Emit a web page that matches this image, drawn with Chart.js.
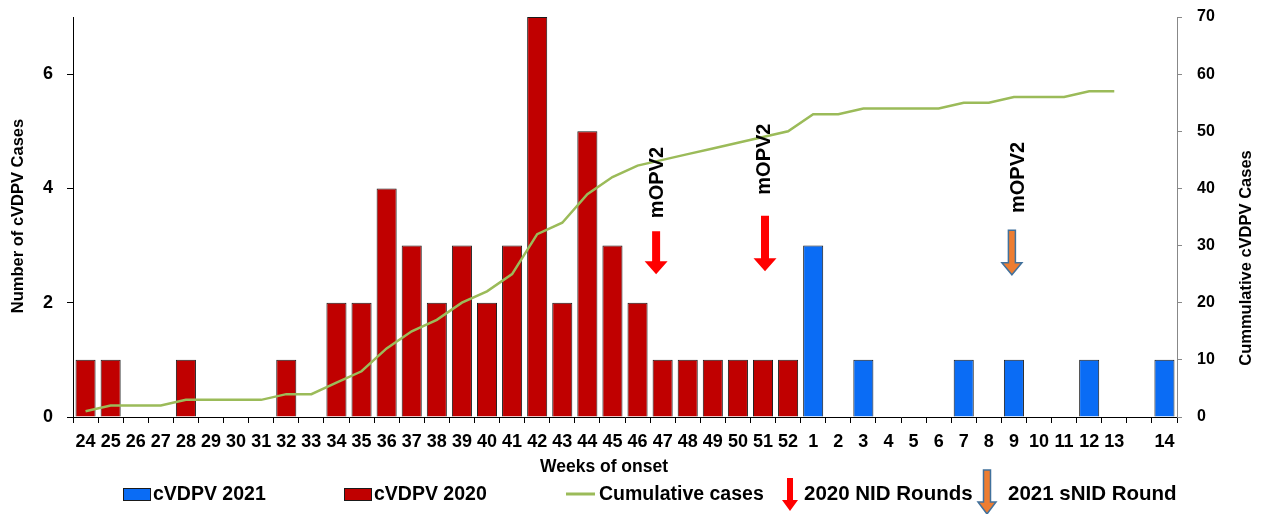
<!DOCTYPE html>
<html>
<head>
<meta charset="utf-8">
<script src="https://cdn.jsdelivr.net/npm/chart.js@4.4.1/dist/chart.umd.min.js"></script>
<style>
  html, body { margin: 0; padding: 0; background: #ffffff; }
  #wrap { width: 1264px; height: 514px; }
</style>
</head>
<body>
<div id="wrap"><canvas id="c" width="1264" height="514"></canvas></div>
<script>
// ---- data ----
const weeks = ['24','25','26','27','28','29','30','31','32','33','34','35','36','37','38','39','40','41','42','43','44','45','46','47','48','49','50','51','52',
               '1','2','3','4','5','6','7','8','9','10','11','12','13','','14'];
const cvdpv2020 = [1,1,0,0,1,0,0,0,1,0,2,2,4,3,2,3,2,3,7,2,5,3,2,1,1,1,1,1,1,
                   null,null,null,null,null,null,null,null,null,null,null,null,null,null,null];
const cvdpv2021 = [null,null,null,null,null,null,null,null,null,null,null,null,null,null,null,null,null,null,null,null,null,null,null,null,null,null,null,null,null,
                   3,0,1,0,0,0,1,0,1,0,0,1,0,null,1];
const cumulative = [1,2,2,2,3,3,3,3,4,4,6,8,12,15,17,20,22,25,32,34,39,42,44,45,46,47,48,49,50,
                    53,53,54,54,54,54,55,55,56,56,56,57,57,null,null];
const leftTicks = [0,2,4,6];
const rightTicks = [0,10,20,30,40,50,60,70];
const roundLabel = 'mOPV2';
const legendLabels = ['cVDPV 2021','cVDPV 2020','Cumulative cases','2020 NID Rounds','2021 sNID Round'];

// ---- styling / placement (not data) ----
const FONT = '"Liberation Sans", Arial, sans-serif';
const C2020 = '#C00000', C2021 = '#0A6CF5', CLINE = '#9BBB59';
// campaign markers, in axis units (x = category index, y = left-axis value)
const markers = [
  { x: 22.74, top: 3.25, tip: 2.50, kind: 'nid',  tx: 23.02, ty: 3.48 },
  { x: 27.08, top: 3.52, tip: 2.55, kind: 'nid',  tx: 27.28, ty: 3.89 },
  { x: 36.92, top: 3.27, tip: 2.49, kind: 'snid', tx: 37.40, ty: 3.57 }
];

function arrow(ctx, cx, top, tip, shaft, head, headH, fill, stroke, lw) {
  ctx.save();
  ctx.beginPath();
  ctx.moveTo(cx - shaft / 2, top);
  ctx.lineTo(cx + shaft / 2, top);
  ctx.lineTo(cx + shaft / 2, tip - headH);
  ctx.lineTo(cx + head / 2, tip - headH);
  ctx.lineTo(cx, tip);
  ctx.lineTo(cx - head / 2, tip - headH);
  ctx.lineTo(cx - shaft / 2, tip - headH);
  ctx.closePath();
  ctx.fillStyle = fill;
  ctx.fill();
  if (stroke) { ctx.strokeStyle = stroke; ctx.lineWidth = lw; ctx.lineJoin = 'miter'; ctx.stroke(); }
  ctx.restore();
}

const overlay = {
  id: 'overlay',
  afterDatasetsDraw(chart) {
    const ctx = chart.ctx, x = chart.scales.x, y = chart.scales.y;
    markers.forEach(m => {
      const cx = x.getPixelForValue(m.x);
      if (m.kind === 'nid') {
        arrow(ctx, cx, y.getPixelForValue(m.top), y.getPixelForValue(m.tip), 8, 23, 13, '#FF0000');
      } else {
        arrow(ctx, cx, y.getPixelForValue(m.top), y.getPixelForValue(m.tip), 7, 20, 12, '#ED7D31', '#41719C', 1.5);
      }
      ctx.save();
      ctx.translate(x.getPixelForValue(m.tx), y.getPixelForValue(m.ty));
      ctx.rotate(-Math.PI / 2);
      ctx.font = 'bold 20px ' + FONT;
      ctx.fillStyle = '#000';
      ctx.textAlign = 'left';
      ctx.textBaseline = 'alphabetic';
      ctx.fillText(roundLabel, 0, 0);
      ctx.restore();
    });
  },
  afterDraw(chart) {
    const ctx = chart.ctx;
    ctx.save();
    ctx.fillStyle = '#000';
    // axis titles
    ctx.font = 'bold 17.5px ' + FONT;
    ctx.textAlign = 'center';
    ctx.textBaseline = 'alphabetic';
    ctx.fillText('Weeks of onset', 604, 472);

    ctx.font = 'bold 16.5px ' + FONT;
    ctx.textBaseline = 'middle';
    ctx.save();
    ctx.translate(18, 216);
    ctx.rotate(-Math.PI / 2);
    ctx.fillText('Number of cVDPV Cases', 0, 0);
    ctx.restore();
    ctx.save();
    ctx.translate(1246, 258);
    ctx.rotate(-Math.PI / 2);
    ctx.fillText('Cummulative cVDPV Cases', 0, 0);
    ctx.restore();

    // legend
    const base = 500;
    ctx.textAlign = 'left';
    ctx.textBaseline = 'alphabetic';
    ctx.lineWidth = 1;
    ctx.strokeStyle = '#1a1a1a';
    ctx.fillStyle = C2021; ctx.fillRect(123, 488, 27, 12); ctx.strokeRect(123.5, 488.5, 27, 12);
    ctx.fillStyle = C2020; ctx.fillRect(344, 488, 27, 12); ctx.strokeRect(344.5, 488.5, 27, 12);
    ctx.strokeStyle = CLINE; ctx.lineWidth = 3;
    ctx.beginPath(); ctx.moveTo(566, 494); ctx.lineTo(595, 494); ctx.stroke();
    arrow(ctx, 790, 478, 511, 6, 16, 11, '#FF0000');
    arrow(ctx, 987, 470, 514, 7, 18, 12, '#ED7D31', '#41719C', 1.5);
    ctx.fillStyle = '#000';
    ctx.font = 'bold 19.5px ' + FONT;
    ctx.fillText(legendLabels[0], 153, base);
    ctx.fillText(legendLabels[1], 374, base);
    ctx.fillText(legendLabels[2], 599, base);
    ctx.font = 'bold 20.5px ' + FONT;
    ctx.fillText(legendLabels[3], 804, base);
    ctx.fillText(legendLabels[4], 1008, base);
    ctx.restore();
  }
};

new Chart(document.getElementById('c'), {
  type: 'bar',
  data: {
    labels: weeks,
    datasets: [
      { type: 'line', label: legendLabels[2], data: cumulative, yAxisID: 'y2',
        borderColor: CLINE, borderWidth: 2.5, pointRadius: 0, tension: 0, order: 0, spanGaps: false },
      { label: legendLabels[0], data: cvdpv2021, yAxisID: 'y', backgroundColor: C2021,
        borderColor: '#1a1a1a', borderWidth: 1, borderSkipped: 'start',
        barPercentage: 0.8, categoryPercentage: 1, grouped: false, order: 1 },
      { label: legendLabels[1], data: cvdpv2020, yAxisID: 'y', backgroundColor: C2020,
        borderColor: '#1a1a1a', borderWidth: 1, borderSkipped: 'start',
        barPercentage: 0.8, categoryPercentage: 1, grouped: false, order: 2 }
    ]
  },
  options: {
    responsive: false,
    animation: false,
    layout: { padding: { top: 17, bottom: 0, left: 0, right: 0 } },
    plugins: { legend: { display: false }, tooltip: { enabled: false } },
    scales: {
      x: {
        offset: true,
        grid: { offset: true, drawOnChartArea: false, color: '#000', tickColor: '#000', tickLength: 6, lineWidth: 1 },
        border: { color: '#000', width: 1 },
        ticks: { autoSkip: false, maxRotation: 0, minRotation: 0, color: '#000', padding: 8,
                 font: { family: FONT, size: 18, weight: 'bold' } },
        afterFit(s) { s.height = 97; }
      },
      y: {
        position: 'left', min: 0, max: 7,
        afterBuildTicks(s) { s.ticks = leftTicks.map(v => ({ value: v })); },
        afterFit(s) { s.width = 73; s.paddingTop = 0; s.paddingBottom = 0; },
        grid: { drawOnChartArea: false, color: '#000', tickColor: '#000', tickLength: 6 },
        border: { color: '#000', width: 1 },
        ticks: { color: '#000', padding: 14, font: { family: FONT, size: 18, weight: 'bold' } }
      },
      y2: {
        position: 'right', min: 0, max: 70,
        afterBuildTicks(s) { s.ticks = rightTicks.map(v => ({ value: v })); },
        afterFit(s) { s.width = 87; s.paddingTop = 0; s.paddingBottom = 0; },
        grid: { drawOnChartArea: false, color: '#888', tickColor: '#888', tickLength: 5 },
        border: { color: '#888', width: 1 },
        ticks: { color: '#000', padding: 15, font: { family: FONT, size: 16, weight: 'bold' } }
      }
    }
  },
  plugins: [overlay]
});
</script>
</body>
</html>
